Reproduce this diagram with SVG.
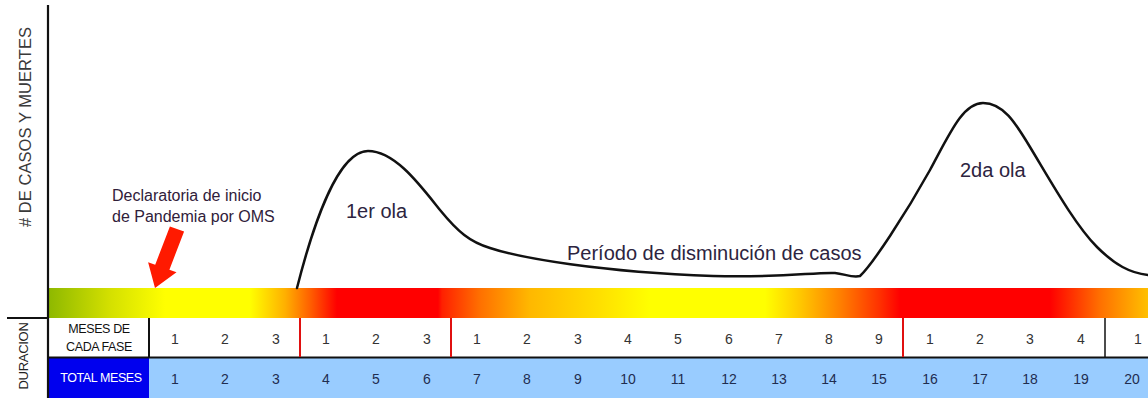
<svg xmlns="http://www.w3.org/2000/svg" width="1148" height="398" viewBox="0 0 1148 398">
<style>
  text { font-family: "Liberation Sans", Arial, sans-serif; }
  .num { font-size: 14px; text-anchor: middle; }
  .r1 { fill: #333333; }
  .r2 { fill: #1f2d50; }
  .lbl { fill: #2d2440; font-size: 20px; }
  .sep-red { stroke: #e01010; stroke-width: 2; }
  .sep-blk { stroke: #111111; stroke-width: 1.5; }
</style>
<defs>
  <linearGradient id="heat" gradientUnits="userSpaceOnUse" x1="48" y1="0" x2="1148" y2="0">
    <stop offset="0" stop-color="#8db800"/>
    <stop offset="0.0564" stop-color="#d4e000"/>
    <stop offset="0.1064" stop-color="#ffff00"/>
    <stop offset="0.1836" stop-color="#ffff00"/>
    <stop offset="0.2155" stop-color="#ffb000"/>
    <stop offset="0.2382" stop-color="#ff6000"/>
    <stop offset="0.2627" stop-color="#ff0000"/>
    <stop offset="0.3545" stop-color="#ff0000"/>
    <stop offset="0.3582" stop-color="#ff2000"/>
    <stop offset="0.3927" stop-color="#ff7000"/>
    <stop offset="0.4382" stop-color="#ffb800"/>
    <stop offset="0.5018" stop-color="#ffe000"/>
    <stop offset="0.5473" stop-color="#ffff00"/>
    <stop offset="0.6518" stop-color="#ffff00"/>
    <stop offset="0.6836" stop-color="#ffc800"/>
    <stop offset="0.72" stop-color="#ff8000"/>
    <stop offset="0.7564" stop-color="#ff3000"/>
    <stop offset="0.7745" stop-color="#ff0000"/>
    <stop offset="0.9109" stop-color="#ff0000"/>
    <stop offset="0.9564" stop-color="#ff7000"/>
    <stop offset="1" stop-color="#ffc000"/>
  </linearGradient>
</defs>

<rect width="1148" height="398" fill="#ffffff"/>

<!-- colour bar -->
<g id="phase-bar">
  <rect x="48" y="288" width="1100" height="30" fill="url(#heat)"/>
</g>

<!-- table -->
<g id="table">
  <rect x="48" y="318" width="1100" height="39" fill="#ffffff"/>
  <rect x="48" y="358" width="101" height="40" fill="#0000ee"/>
  <rect x="149" y="358" width="999" height="40" fill="#99ccff"/>
  <line x1="48" y1="357.5" x2="1148" y2="357.5" stroke="#111111" stroke-width="2"/>
  <line x1="149" y1="318" x2="149" y2="357" stroke="#111111" stroke-width="2"/>
  <line class="sep-red" x1="300" y1="318" x2="300" y2="357"/>
  <line class="sep-red" x1="451" y1="318" x2="451" y2="357"/>
  <line class="sep-red" x1="903" y1="318" x2="903" y2="357"/>
  <line class="sep-blk" x1="1105" y1="318" x2="1105" y2="357"/>
</g>

<g id="row-labels">
  <text x="99" y="333" font-size="12.5" letter-spacing="-0.4" text-anchor="middle" fill="#111111">MESES DE</text>
  <text x="99" y="351" font-size="12.5" letter-spacing="-0.4" text-anchor="middle" fill="#111111">CADA FASE</text>
  <text x="101" y="382" font-size="12.5" letter-spacing="-0.4" text-anchor="middle" fill="#ffffff">TOTAL MESES</text>
  <text transform="translate(28 356) rotate(-90)" font-size="13" letter-spacing="-0.3" text-anchor="middle" fill="#222222">DURACION</text>
</g>

<g id="row-phase-months">
  <text class="num r1" x="175" y="344">1</text>
  <text class="num r1" x="225" y="344">2</text>
  <text class="num r1" x="276" y="344">3</text>
  <text class="num r1" x="326" y="344">1</text>
  <text class="num r1" x="376" y="344">2</text>
  <text class="num r1" x="427" y="344">3</text>
  <text class="num r1" x="477" y="344">1</text>
  <text class="num r1" x="527" y="344">2</text>
  <text class="num r1" x="578" y="344">3</text>
  <text class="num r1" x="628" y="344">4</text>
  <text class="num r1" x="678" y="344">5</text>
  <text class="num r1" x="729" y="344">6</text>
  <text class="num r1" x="779" y="344">7</text>
  <text class="num r1" x="829" y="344">8</text>
  <text class="num r1" x="879" y="344">9</text>
  <text class="num r1" x="930" y="344">1</text>
  <text class="num r1" x="980" y="344">2</text>
  <text class="num r1" x="1030" y="344">3</text>
  <text class="num r1" x="1081" y="344">4</text>
  <text class="num r1" x="1138" y="344">1</text>
</g>

<g id="row-total-months">
  <text class="num r2" x="175" y="384">1</text>
  <text class="num r2" x="225" y="384">2</text>
  <text class="num r2" x="276" y="384">3</text>
  <text class="num r2" x="326" y="384">4</text>
  <text class="num r2" x="376" y="384">5</text>
  <text class="num r2" x="427" y="384">6</text>
  <text class="num r2" x="477" y="384">7</text>
  <text class="num r2" x="527" y="384">8</text>
  <text class="num r2" x="578" y="384">9</text>
  <text class="num r2" x="628" y="384">10</text>
  <text class="num r2" x="678" y="384">11</text>
  <text class="num r2" x="729" y="384">12</text>
  <text class="num r2" x="779" y="384">13</text>
  <text class="num r2" x="829" y="384">14</text>
  <text class="num r2" x="879" y="384">15</text>
  <text class="num r2" x="930" y="384">16</text>
  <text class="num r2" x="980" y="384">17</text>
  <text class="num r2" x="1030" y="384">18</text>
  <text class="num r2" x="1081" y="384">19</text>
  <text class="num r2" x="1132" y="384">20</text>
</g>

<!-- axes -->
<g id="axes">
  <line x1="48" y1="5" x2="48" y2="398" stroke="#111111" stroke-width="2.2"/>
  <line x1="7" y1="318" x2="48" y2="318" stroke="#111111" stroke-width="2"/>
  <text transform="translate(31 127) rotate(-90)" font-size="16.5" text-anchor="middle" fill="#3a3a3a" textLength="200" lengthAdjust="spacing"># DE CASOS Y MUERTES</text>
</g>

<!-- curve -->
<g id="connectors">
  <path d="M 297 288 C 313 225, 338 151, 368 151 C 395 151, 420 185, 440 210 C 458 232, 470 242, 490 248 C 520 258, 600 272, 713 276 C 780 278, 815 272, 835 273 C 845 274, 852 278, 860 276 C 872 265, 905 215, 930 170 C 950 133, 963 103, 983 103 C 1003 103, 1015 122, 1030 147 C 1050 180, 1075 225, 1097 247 C 1115 265, 1130 273, 1148 275" fill="none" stroke="#111111" stroke-width="2.5" stroke-linecap="round" stroke-linejoin="round"/>
  <polygon points="184.1,231.5 169.9,226.5 155.2,264.7 148.1,262.2 155,288 176.5,272.2 169.4,269.7" fill="#ff1a00"/>
</g>

<!-- annotations -->
<g id="annotation-oms">
  <text x="112" y="201" font-size="16" fill="#30203a">Declaratoria de inicio</text>
  <text x="112" y="222" font-size="16" fill="#30203a">de Pandemia por OMS</text>
</g>
<g id="label-ola1">
  <text class="lbl" x="346" y="218">1er ola</text>
</g>
<g id="label-periodo">
  <text class="lbl" x="567" y="260">Período de disminución de casos</text>
</g>
<g id="label-ola2">
  <text class="lbl" x="960" y="177">2da ola</text>
</g>
</svg>
